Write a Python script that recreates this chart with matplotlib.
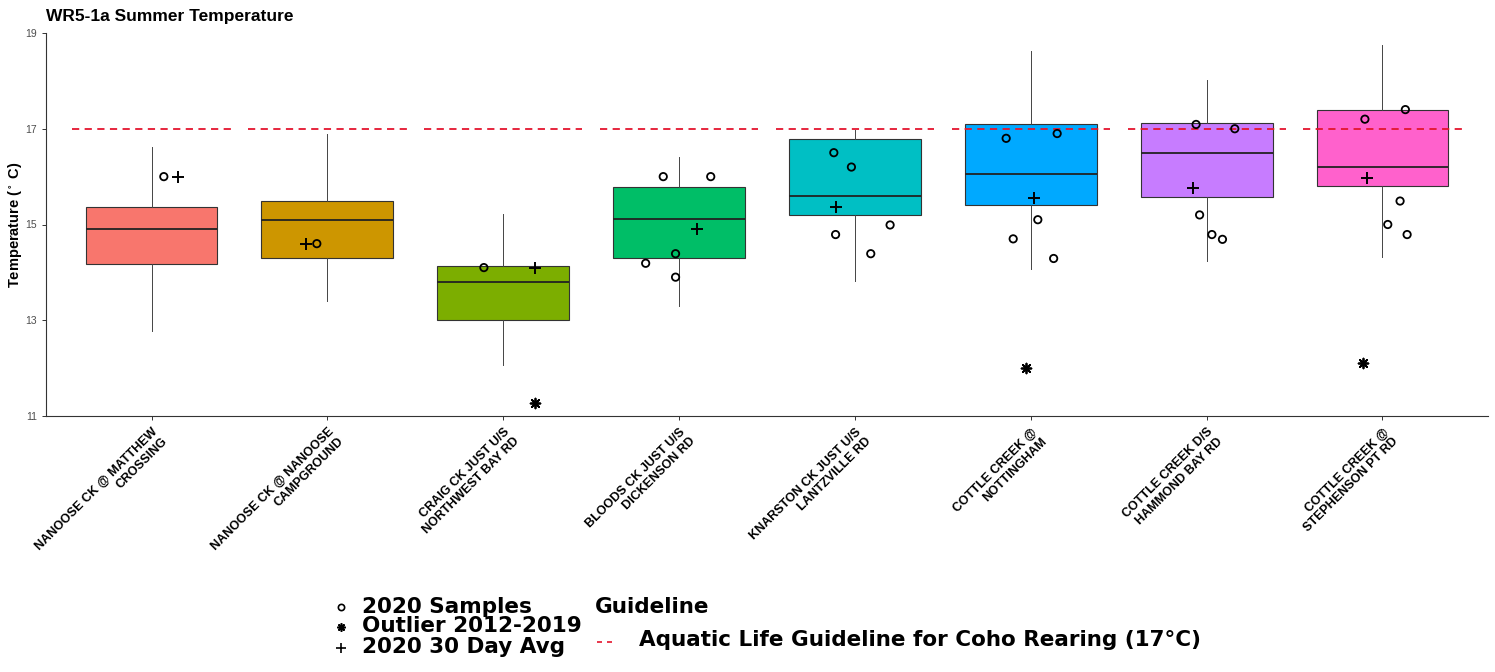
# coding:utf-8
import matplotlib
matplotlib.use("Agg")
import matplotlib.pyplot as plt
import numpy as np

plt.rcParams['font.family'] = ['Liberation Sans', 'DejaVu Sans']
plt.rcParams['mathtext.default'] = 'regular'

# 站点名称
sites = ["NANOOSE CK @ MATTHEW\nCROSSING",
         "NANOOSE CK @ NANOOSE\nCAMPGROUND",
         "CRAIG CK JUST U/S\nNORTHWEST BAY RD",
         "BLOODS CK JUST U/S\nDICKENSON RD",
         "KNARSTON CK JUST U/S\nLANTZVILLE RD",
         "COTTLE CREEK @\nNOTTINGHAM",
         "COTTLE CREEK D/S\nHAMMOND BAY RD",
         "COTTLE CREEK @\nSTEPHENSON PT RD"]
colors = ["#F8766D", "#CD9600", "#7CAE00", "#00BE67",
          "#00BFC4", "#00A9FF", "#C77CFF", "#FF61CC"]

# 2012-2019 箱线图统计量
whisker_lo = [12.78, 13.41, 12.07, 13.29, 13.81, 14.08, 14.23, 14.32]
q1 = [14.17, 14.30, 13.00, 14.30, 15.20, 15.41, 15.57, 15.80]
med = [14.90, 15.10, 13.80, 15.11, 15.60, 16.05, 16.49, 16.20]
q3 = [15.37, 15.50, 14.13, 15.79, 16.79, 17.10, 17.12, 17.40]
whisker_hi = [16.61, 16.90, 15.21, 16.40, 16.98, 18.62, 18.01, 18.74]

# 2020 样本
samples = [[16.0],
           [14.6],
           [14.1],
           [16.0, 16.0, 14.39, 14.19, 13.90],
           [16.50, 16.20, 14.79, 14.99, 14.39],
           [16.90, 16.80, 15.10, 14.70, 14.29],
           [17.09, 17.0, 15.20, 14.79, 14.69],
           [17.20, 17.40, 15.49, 15.00, 14.79]]
# jitter (x 方向抖动)
sample_jit = [[0.07], [-0.06], [-0.11],
              [-0.09, 0.18, -0.02, -0.19, -0.02],
              [-0.12, -0.02, -0.11, 0.20, 0.09],
              [0.15, -0.14, 0.04, -0.10, 0.13],
              [-0.06, 0.16, -0.04, 0.03, 0.09],
              [-0.10, 0.13, 0.10, 0.03, 0.14]]

# 2020 30 天平均
avg30 = [16.0, 14.6, 14.1, 14.90, 15.37, 15.56, 15.76, 15.98]
avg_jit = [0.15, -0.12, 0.18, 0.10, -0.11, 0.02, -0.08, -0.09]

# 2012-2019 离群值
out_site = [3, 6, 8]
out_val = [11.28, 12.0, 12.10]
out_jit = [0.18, -0.03, -0.11]

guideline = 17

W, H = 1495, 672
fig = plt.figure(figsize=(W / 100, H / 100), dpi=100)
ax = fig.add_axes([46 / W, 1 - 416 / H, (1488 - 46) / W, (416 - 33) / H])

pos = np.arange(1, len(sites) + 1)
stats = []
for i in range(len(sites)):
    stats.append(dict(med=med[i], q1=q1[i], q3=q3[i],
                      whislo=whisker_lo[i], whishi=whisker_hi[i], fliers=[]))
bp = ax.bxp(stats, positions=pos, widths=0.75, patch_artist=True,
            showcaps=False, showfliers=False,
            boxprops=dict(edgecolor='#333333', linewidth=0.8),
            medianprops=dict(color='#222222', linewidth=1.3),
            whiskerprops=dict(color='#444444', linewidth=0.7))
for patch, c in zip(bp['boxes'], colors):
    patch.set_facecolor(c)

# 指导线
ax.hlines([guideline] * len(sites), pos - 0.45, pos + 0.45, colors='#E4152E',
          linestyles=(0, (4, 3)), linewidth=1.3, zorder=5)

for i in range(len(sites)):
    xs = pos[i] + np.array(sample_jit[i])
    ax.scatter(xs, samples[i], s=28, facecolors='none', edgecolors='black',
               linewidths=1.3, zorder=6)
ax.scatter(pos + np.array(avg_jit), avg30, marker='+', s=70, c='black',
           linewidths=1.4, zorder=6)
ax.scatter(np.array(out_site) + np.array(out_jit), out_val, marker=(8, 2, 0),
           s=50, c='black', linewidths=1.3, zorder=6)

ax.set_xlim(0.4, 8.6)
ax.set_ylim(11, 19)
ax.set_yticks([11, 13, 15, 17, 19])
ax.set_xticks(pos)
ax.set_xticklabels(sites, rotation=45, ha='right', va='top',
                   rotation_mode='anchor', multialignment='right',
                   fontsize=9, fontweight='bold', color='black')
ax.tick_params(axis='y', labelsize=7.5, labelcolor='#4D4D4D', length=3,
               color='#333333', width=0.7)
ax.tick_params(axis='x', length=3, color='#333333', width=0.7, pad=4)
for s in ['top', 'right']:
    ax.spines[s].set_visible(False)
for s in ['left', 'bottom']:
    ax.spines[s].set_color('#333333')
    ax.spines[s].set_linewidth(0.8)
ax.set_ylabel(r'Temperature ($^\circ$ C)', fontsize=10.5, fontweight='bold',
              va='center')
ax.yaxis.set_label_coords(-31 / 1442, 0.5)

fig.text(46 / W, 1 - 16 / H, 'WR5-1a Summer Temperature', fontsize=12.5,
         fontweight='bold', ha='left', va='center')

# 图例 (像素坐标)
lg = fig.add_axes([0, 0, 1, 1])
lg.set_xlim(0, W)
lg.set_ylim(H, 0)
lg.axis('off')
lfont = dict(fontsize=15.5, fontweight='bold', family='DejaVu Sans', va='center')
lg.plot(341, 607, 'o', ms=4.5, mfc='none', mec='black', mew=1.2)
lg.plot(341, 627, marker=(8, 2, 0), ms=6, color='black', mew=1.2)
lg.plot(341, 648, '+', ms=7, color='black', mew=1.2)
lg.text(362, 607, '2020 Samples', **lfont)
lg.text(362, 626, 'Outlier 2012-2019', **lfont)
lg.text(362, 647, '2020 30 Day Avg', **lfont)
lg.text(595, 607, 'Guideline', **lfont)
lg.plot([597, 616], [642, 642], color='#E4152E', lw=1.2, ls=(0, (3, 3)))
lg.text(639, 640, 'Aquatic Life Guideline for Coho Rearing (17°C)', **lfont)

plt.savefig('out.png', dpi=100)
